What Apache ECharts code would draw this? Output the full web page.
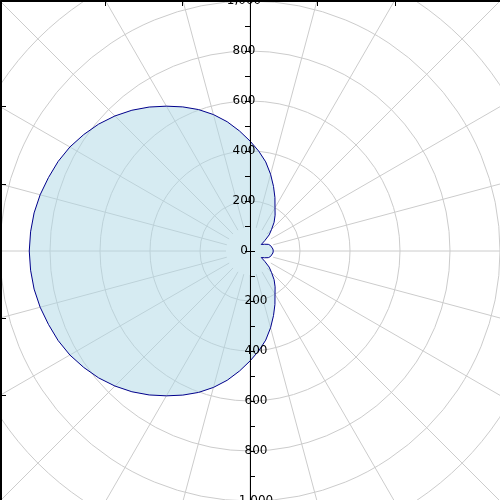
<!DOCTYPE html>
<html>
<head>
<meta charset="utf-8">
<script src="https://cdn.jsdelivr.net/npm/echarts@6/dist/echarts.min.js"></script>
<style>
  html, body { margin: 0; padding: 0; background: #fff; }
  #chart { width: 500px; height: 500px; }
</style>
</head>
<body>
<div id="chart"></div>
<script>
// pattern, every 5 degrees (0 = right, counter-clockwise)
var angles = [0, 5, 10, 15, 20, 25, 30, 35, 40, 45, 50, 55, 60, 65, 70, 75, 80, 85, 90,
              95, 100, 105, 110, 115, 120, 125, 130, 135, 140, 145, 150, 155, 160, 165, 170, 175, 180,
              185, 190, 195, 200, 205, 210, 215, 220, 225, 230, 235, 240, 245, 250, 255, 260, 265, 270,
              275, 280, 285, 290, 295, 300, 305, 310, 315, 320, 325, 330, 335, 340, 345, 350, 355, 360];
var gain = [93, 92, 90, 85, 78, 64, 52, 72, 100, 122, 150, 175, 200, 236, 275, 318, 362, 401, 440,
            482, 525, 565, 602, 636, 669, 703, 735, 764, 790, 812, 832, 847, 858, 869, 877, 881, 883,
            881, 877, 869, 858, 847, 832, 812, 790, 764, 735, 703, 669, 636, 602, 565, 525, 482, 440,
            401, 362, 318, 275, 236, 200, 175, 150, 122, 100, 72, 52, 64, 78, 85, 90, 92, 93];
var radiusTicks = [0, 200, 400, 600, 800, 1000];
var spokeStep = 15;

var cx = 250, cy = 251, pxPer1000 = 250;
var gridColor = '#cccccc';
var labelFont = { color: '#000', fontSize: 12, fontFamily: 'DejaVu Sans', padding: [5, 0, 0, 0] };

// where the 15/30 degree spokes meet the top and left edges of the frame
function edgeTicks(c, d) {
  return [15, 30].reduce(function (out, a) {
    var off = d * Math.tan(a * Math.PI / 180);
    return out.concat([c - off, c + off]);
  }, []);
}

var points = angles.map(function (a, i) { return [gain[i], a]; });

var chart = echarts.init(document.getElementById('chart'));

var hiddenAngle = {
  type: 'value', min: 0, max: 360, startAngle: 0, clockwise: false,
  axisLine: { show: false }, axisTick: { show: false }, axisLabel: { show: false },
  splitLine: { show: false }
};

var option = {
  animation: false,
  backgroundColor: '#fff',
  polar: [
    { center: [cx, cy], radius: pxPer1000 * 1.2 },          // data + circles
    { center: [cx, cy], radius: pxPer1000 },                // upward axis
    { center: [cx, cy], radius: pxPer1000 },                // downward axis
    { center: [cx, cy], radius: [24, 380] }                 // spokes
  ],
  angleAxis: [
    Object.assign({}, hiddenAngle, { polarIndex: 0 }),
    Object.assign({}, hiddenAngle, { polarIndex: 1, startAngle: 90 }),
    Object.assign({}, hiddenAngle, { polarIndex: 2, startAngle: 270 }),
    Object.assign({}, hiddenAngle, {
      polarIndex: 3, interval: spokeStep,
      splitLine: { show: true, lineStyle: { color: gridColor, width: 1 } }
    })
  ],
  radiusAxis: [
    {
      polarIndex: 0, type: 'value', min: 0, max: 1200, interval: 200,
      axisLine: { show: false }, axisTick: { show: false }, axisLabel: { show: false },
      splitLine: { show: true, lineStyle: { color: gridColor, width: 1 } }
    },
    {
      polarIndex: 1, type: 'value', min: 0, max: radiusTicks[radiusTicks.length - 1], interval: 200,
      z: 10,
      axisLine: { lineStyle: { color: '#000', width: 1 } },
      axisTick: { inside: true, length: 5, lineStyle: { color: '#000' } },
      minorTick: { show: true, splitNumber: 2, length: 5, lineStyle: { color: '#000' } },
      axisLabel: Object.assign({ align: 'center', margin: 6 }, labelFont),
      splitLine: { show: false }
    },
    {
      polarIndex: 2, type: 'value', min: 0, max: radiusTicks[radiusTicks.length - 1], interval: 200,
      z: 10,
      axisLine: { lineStyle: { color: '#000', width: 1 } },
      axisTick: { length: 5, lineStyle: { color: '#000' } },
      minorTick: { show: true, splitNumber: 2, length: 5, lineStyle: { color: '#000' } },
      axisLabel: Object.assign({ inside: true, align: 'center', margin: 6, showMinLabel: false }, labelFont),
      splitLine: { show: false }
    },
    {
      polarIndex: 3, type: 'value', min: 0, max: 1,
      axisLine: { show: false }, axisTick: { show: false }, axisLabel: { show: false },
      splitLine: { show: false }
    }
  ],
  // frame on the top and left edges
  grid: { left: 1, top: 1, right: 0, bottom: 0, show: false },
  xAxis: {
    type: 'value', position: 'top', min: 1, max: 500,
    axisLine: { show: true, onZero: false, lineStyle: { color: '#000', width: 2 } },
    axisTick: { show: true, inside: true, length: 5, customValues: edgeTicks(cx, cy), lineStyle: { color: '#000' } },
    axisLabel: { show: false }, splitLine: { show: false }
  },
  yAxis: {
    type: 'value', position: 'left', inverse: true, min: 1, max: 500,
    axisLine: { show: true, onZero: false, lineStyle: { color: '#000', width: 2 } },
    axisTick: { show: true, inside: true, length: 5, customValues: edgeTicks(cy, cx), lineStyle: { color: '#000' } },
    axisLabel: { show: false }, splitLine: { show: false }
  },
  series: [{
    type: 'line',
    coordinateSystem: 'polar',
    polarIndex: 0,
    data: points,
    symbol: 'none',
    lineStyle: { color: '#00008b', width: 1 },
    areaStyle: { color: 'rgba(173,216,230,0.5)', opacity: 1 },
    z: 2
  }]
};

chart.setOption(option);
</script>
</body>
</html>
